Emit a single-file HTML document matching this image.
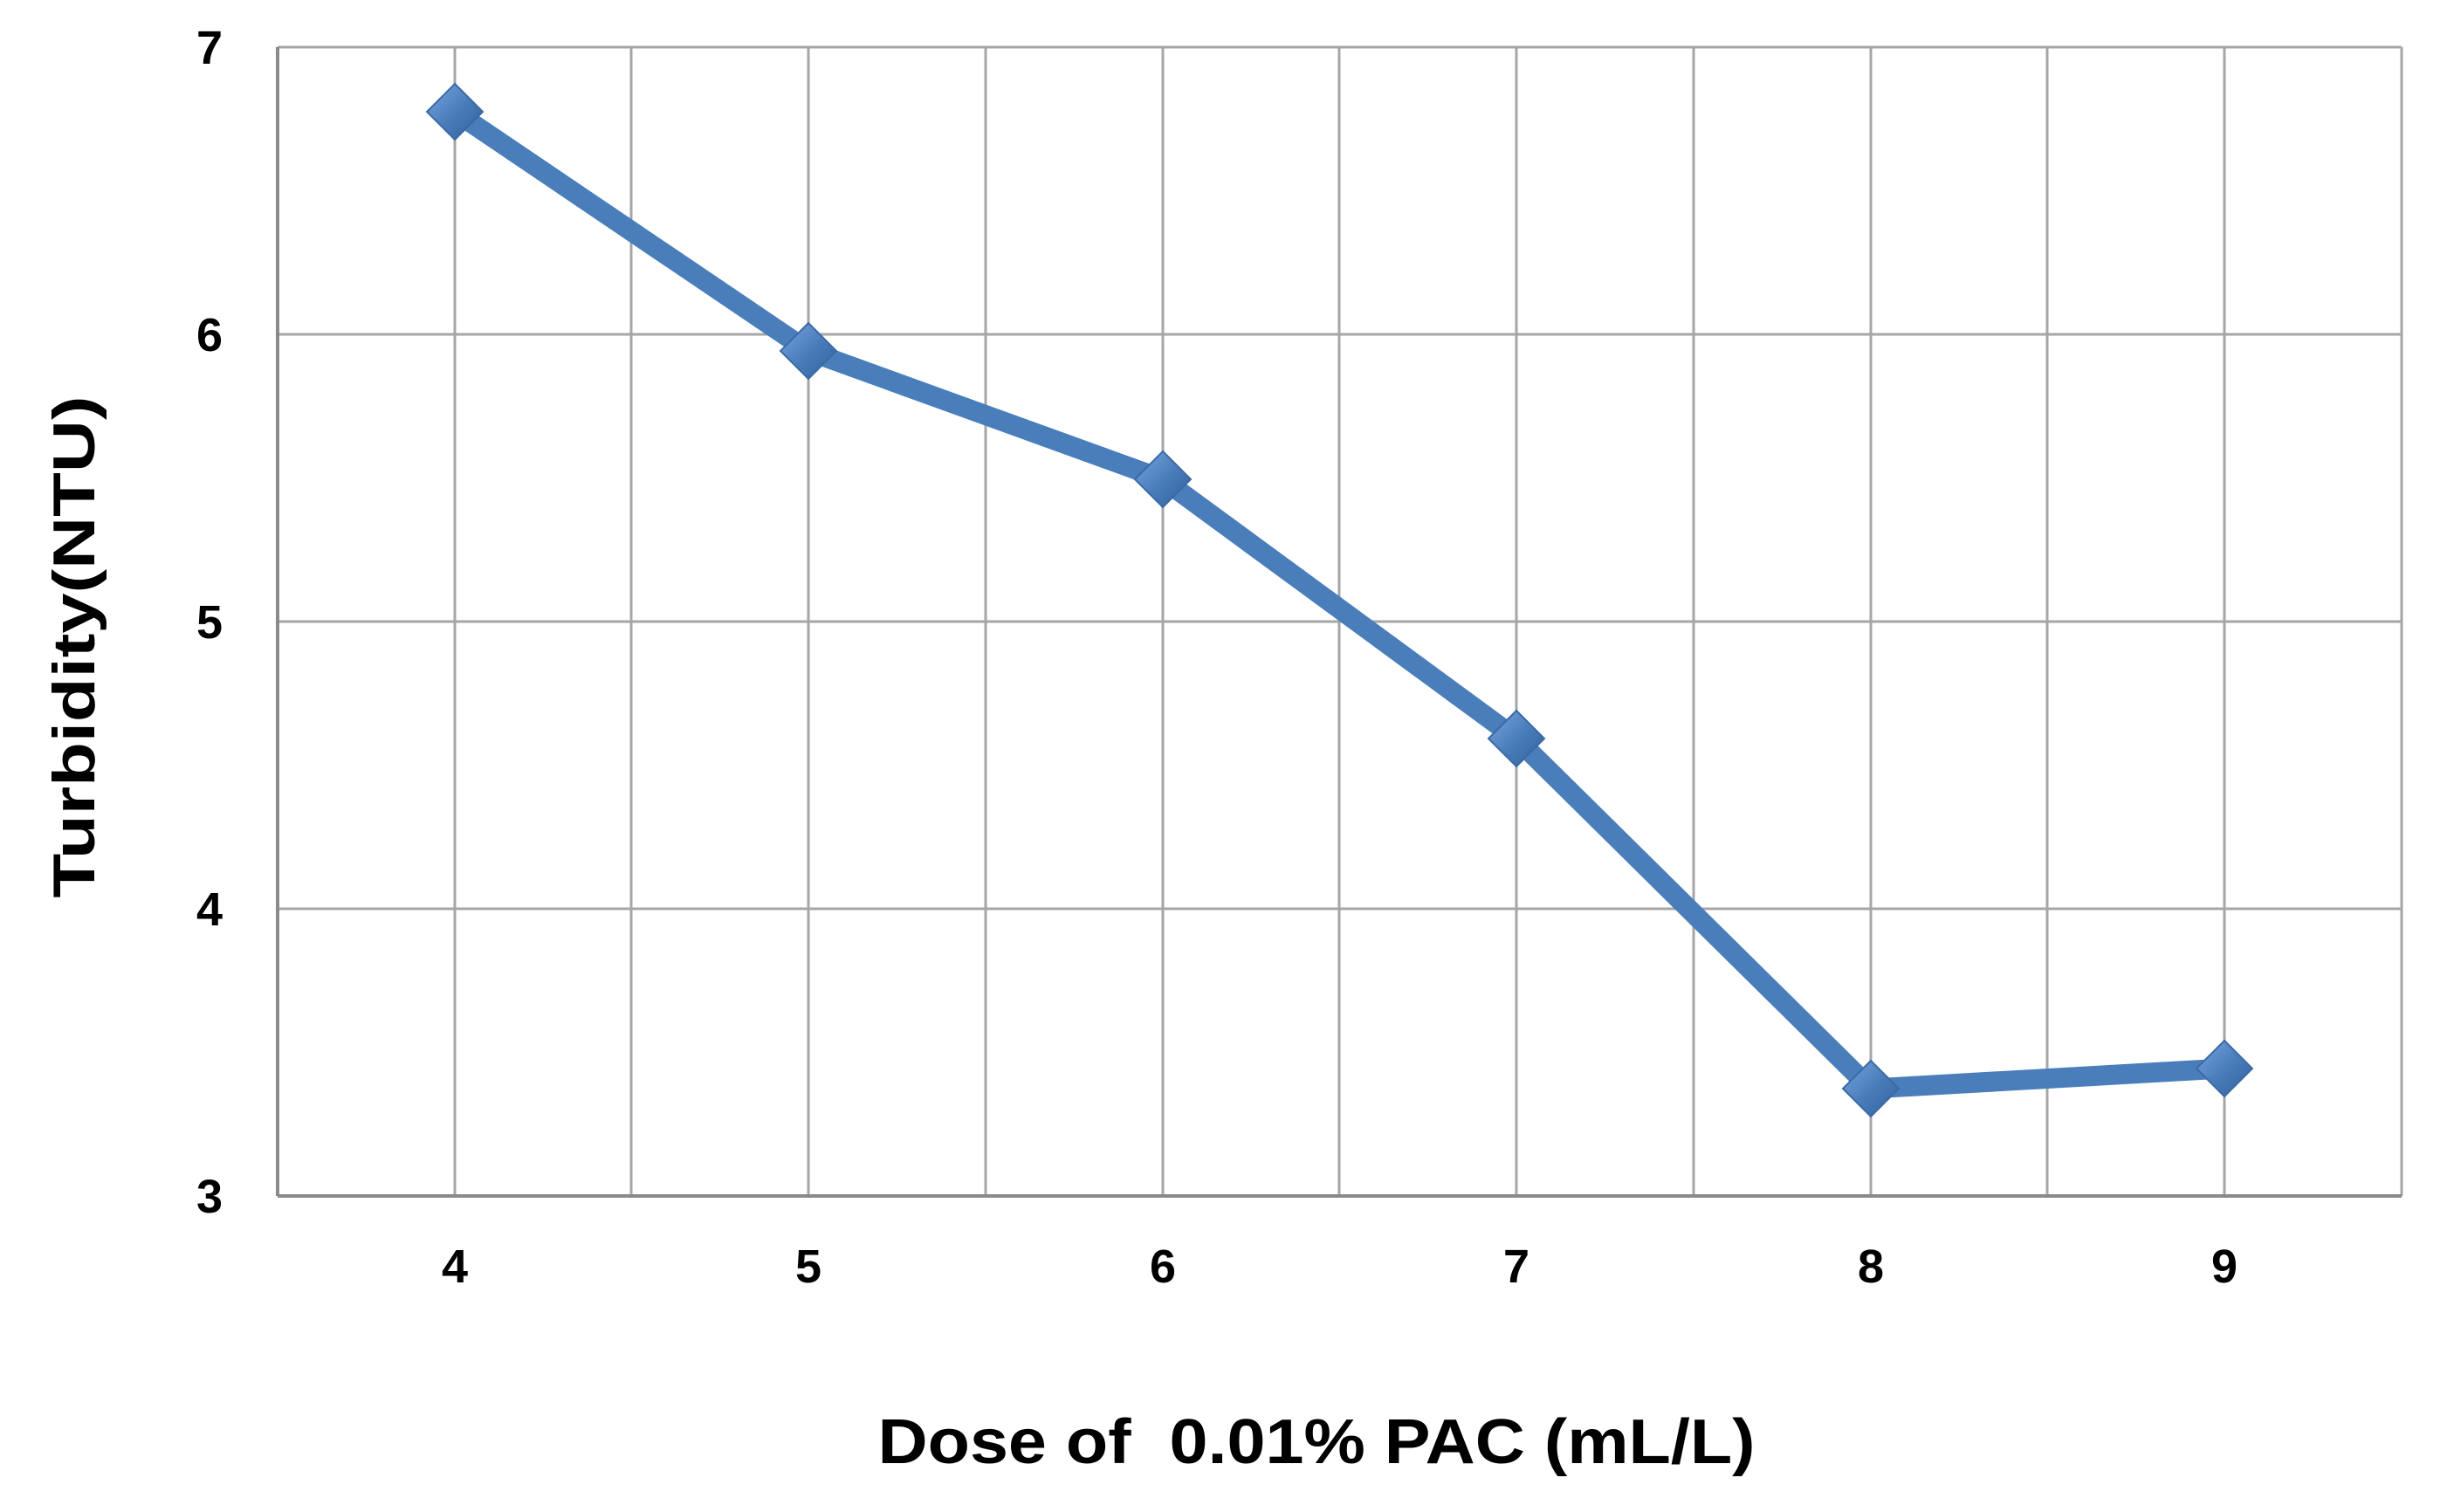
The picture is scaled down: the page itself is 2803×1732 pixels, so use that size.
<!DOCTYPE html>
<html><head><meta charset="utf-8"><style>body{margin:0;background:#fff}</style></head>
<body>
<svg width="2803" height="1727" viewBox="0 0 2803 1727" xmlns="http://www.w3.org/2000/svg" font-family="Liberation Sans, sans-serif" font-weight="bold">
<defs>
<linearGradient id="g" x1="0" y1="0" x2="1" y2="1">
<stop offset="0" stop-color="#7aa6df"/><stop offset="0.5" stop-color="#4a7ebb"/><stop offset="1" stop-color="#2f5f9a"/>
</linearGradient>
</defs>
<g stroke="#a6a6a6" stroke-width="3">
<line x1="318" y1="54" x2="2751" y2="54"/>
<line x1="318" y1="383" x2="2751" y2="383"/>
<line x1="318" y1="712" x2="2751" y2="712"/>
<line x1="318" y1="1041" x2="2751" y2="1041"/>
<line x1="521" y1="54" x2="521" y2="1370"/>
<line x1="723" y1="54" x2="723" y2="1370"/>
<line x1="926" y1="54" x2="926" y2="1370"/>
<line x1="1129" y1="54" x2="1129" y2="1370"/>
<line x1="1332" y1="54" x2="1332" y2="1370"/>
<line x1="1534" y1="54" x2="1534" y2="1370"/>
<line x1="1737" y1="54" x2="1737" y2="1370"/>
<line x1="1940" y1="54" x2="1940" y2="1370"/>
<line x1="2143" y1="54" x2="2143" y2="1370"/>
<line x1="2345" y1="54" x2="2345" y2="1370"/>
<line x1="2548" y1="54" x2="2548" y2="1370"/>
<line x1="2751" y1="54" x2="2751" y2="1370"/>
</g>
<line x1="318" y1="54" x2="318" y2="1370" stroke="#8a8a8a" stroke-width="4"/>
<line x1="318" y1="1370" x2="2751" y2="1370" stroke="#8a8a8a" stroke-width="4"/>
<polyline fill="none" stroke="#4a7ebb" stroke-width="23" stroke-linejoin="round"
 points="521,128 926,402 1332,549 1737,846 2143,1247 2548,1224"/>
<g fill="url(#g)" stroke="#3a6aa5" stroke-width="2">
<polygon points="521,96 553,128 521,160 489,128"/>
<polygon points="926,370 958,402 926,434 894,402"/>
<polygon points="1332,517 1364,549 1332,581 1300,549"/>
<polygon points="1737,814 1769,846 1737,878 1705,846"/>
<polygon points="2143,1215 2175,1247 2143,1279 2111,1247"/>
<polygon points="2548,1192 2580,1224 2548,1256 2516,1224"/>
</g>
<g font-size="54" text-anchor="middle" fill="#000">
<text x="240" y="73">7</text>
<text x="240" y="402">6</text>
<text x="240" y="731">5</text>
<text x="240" y="1060">4</text>
<text x="240" y="1389">3</text>
<text x="521" y="1469">4</text>
<text x="926" y="1469">5</text>
<text x="1332" y="1469">6</text>
<text x="1737" y="1469">7</text>
<text x="2143" y="1469">8</text>
<text x="2548" y="1469">9</text>
</g>
<text transform="translate(108,741) rotate(-90)" font-size="68" text-anchor="middle" textLength="575" lengthAdjust="spacingAndGlyphs">Turbidity(NTU)</text>
<text x="1508" y="1676" font-size="72" text-anchor="middle" textLength="1005" lengthAdjust="spacingAndGlyphs" xml:space="preserve">Dose of  0.01% PAC (mL/L)</text>
</svg>
</body></html>
